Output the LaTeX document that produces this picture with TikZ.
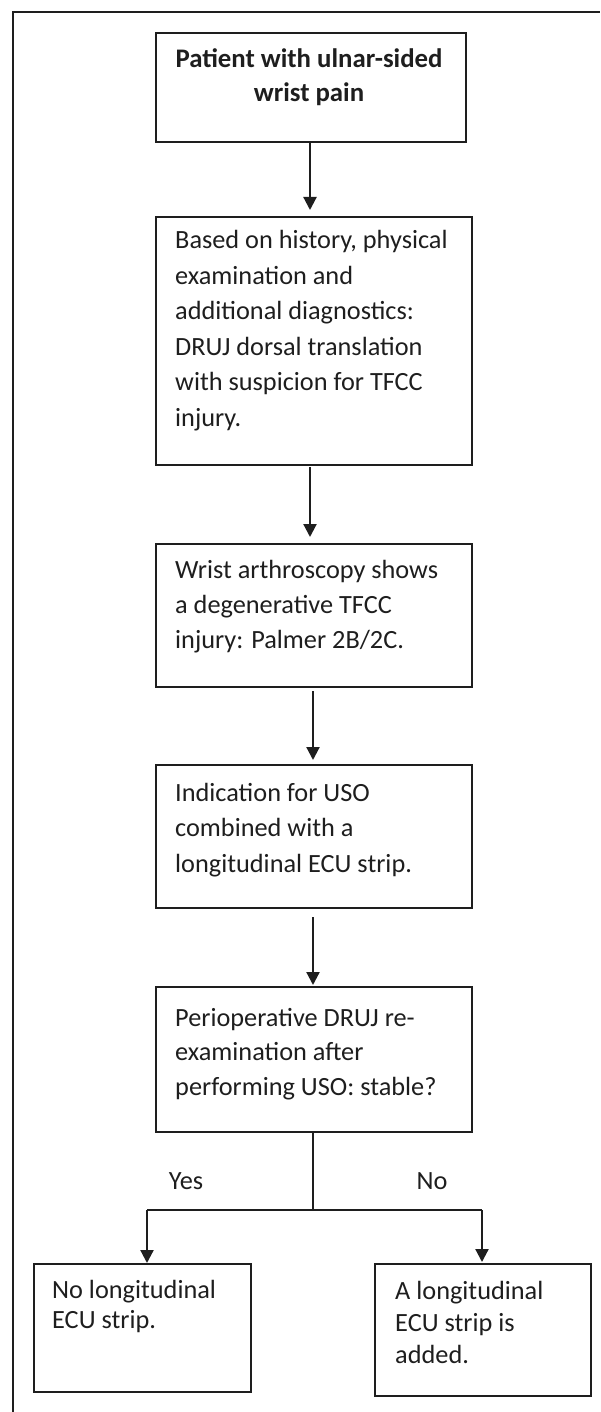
\documentclass[tikz,border=0pt]{standalone}
\usepackage{fontspec}
\setmainfont{Carlito}
\usetikzlibrary{arrows.meta}
\definecolor{ink}{HTML}{1E1E1E}
\begin{document}
\begin{tikzpicture}[x=1pt,y=-1pt,
  boxst/.style={draw=ink, line width=2pt, inner sep=0, outer sep=0, anchor=north west},
  txt/.style={anchor=base, inner sep=0, text=ink},
  conn/.style={draw=ink, line width=2.2pt},
  thinconn/.style={draw=ink, line width=1.4pt},
  arr/.style={conn, -{Triangle[width=13pt,length=13pt]}},
  lbl/.style={anchor=base, inner sep=0, text=ink, font=\fontsize{26.3}{30}\selectfont},
]
\useasboundingbox (0,0) rectangle (600,1412);
% outer frame (cropped at right and bottom)
\coordinate (fbl) at (13,1412);
\coordinate (ftl) at (13,12);
\coordinate (ftr) at (600,12);
\draw[draw=ink, line width=2.8pt] (fbl) -- (ftl) -- (ftr);

% boxes
\node[boxst, minimum width=310pt, minimum height=109pt] (b1) at (156,33) {};
\node[boxst, minimum width=316pt, minimum height=248pt] (b2) at (156,217) {};
\node[boxst, minimum width=316pt, minimum height=143pt] (b3) at (156,544) {};
\node[boxst, minimum width=316pt, minimum height=143pt] (b4) at (156,765) {};
\node[boxst, minimum width=316pt, minimum height=145pt] (b5) at (156,987) {};
\node[boxst, minimum width=217pt, minimum height=128pt] (b6) at (34,1264) {};
\node[boxst, minimum width=216pt, minimum height=132pt] (b7) at (375,1264) {};

% texts
\node[txt, anchor=base] (t1) at (309,68) {\parbox[t]{300pt}{\centering\fontsize{26.8}{34}\selectfont\bfseries Patient with ulnar-sided\\wrist pain}};
\node[txt, anchor=base west] (t2) at (175,249) {\parbox[t]{295pt}{\raggedright\fontsize{26.3}{35.5}\selectfont Based on history, physical\\examination and\\additional diagnostics:\\DRUJ dorsal translation\\with suspicion for TFCC\\injury.}};
\node[txt, anchor=base west] (t3) at (175,578) {\parbox[t]{295pt}{\raggedright\fontsize{26.3}{35}\selectfont Wrist arthroscopy shows\\a degenerative TFCC\\injury: Palmer 2B/2C.}};
\node[txt, anchor=base west] (t4) at (175,801) {\parbox[t]{295pt}{\raggedright\fontsize{26.3}{35.5}\selectfont Indication for USO\\combined with a\\longitudinal ECU strip.}};
\node[txt, anchor=base west] (t5) at (175,1026) {\parbox[t]{295pt}{\raggedright\fontsize{26.3}{34.5}\selectfont Perioperative DRUJ re-\\examination after\\performing USO: stable?}};
\node[txt, anchor=base west] (t6) at (52,1298) {\parbox[t]{195pt}{\raggedright\fontsize{26.3}{30}\selectfont No longitudinal\\ECU strip.}};
\node[txt, anchor=base west] (t7) at (395,1299) {\parbox[t]{195pt}{\raggedright\fontsize{26.3}{32}\selectfont A longitudinal\\ECU strip is\\added.}};

% connectors
\draw[arr, shorten >=7pt] (b1.south -| 310,0) -- (b2.north -| 310,0);
\draw[arr, shorten <=2pt, shorten >=7pt] (b2.south -| 310,0) -- (b3.north -| 310,0);
\draw[arr, shorten <=4pt, shorten >=5pt] (b3.south -| 313,0) -- (b4.north -| 313,0);
\draw[arr, shorten <=9pt, shorten >=2pt] (b4.south -| 313,0) -- (b5.north -| 313,0);

\coordinate (split) at (313,1210);
\coordinate (yesc) at (147,1210);
\coordinate (noc) at (482,1210);
\draw[conn] (b5.south -| split) -- (split);
\draw[thinconn] (yesc) -- (noc);
\draw[arr, shorten >=1pt] (yesc) -- (b6.north -| yesc);
\draw[arr, shorten >=2pt] (noc) -- (b7.north -| noc);

\node[lbl] (yes) at (186,1189) {Yes};
\node[lbl] (no) at (432,1189) {No};
\end{tikzpicture}
\end{document}
